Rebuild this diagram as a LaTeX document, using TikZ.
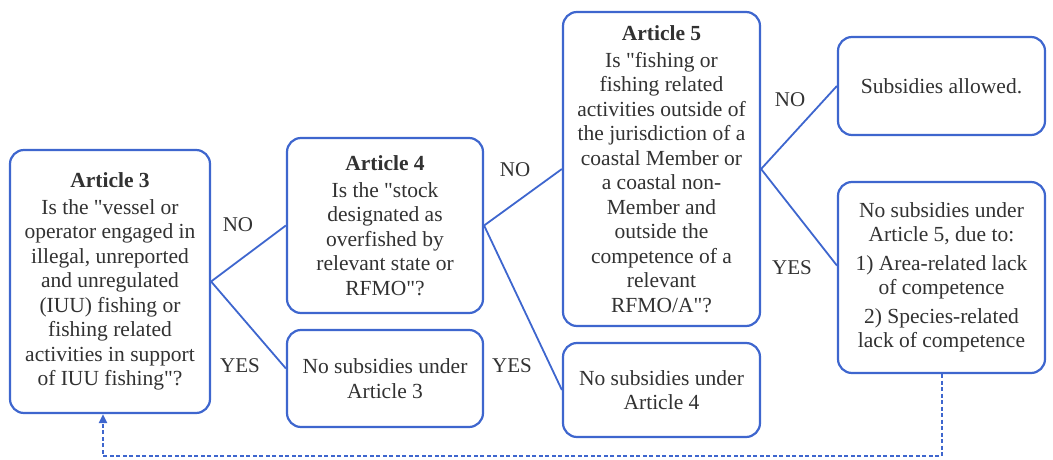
\documentclass[tikz,border=0pt]{standalone}
\usepackage{fontspec}
\setmainfont{Liberation Serif}[Ligatures=TeXOff]
\usetikzlibrary{arrows.meta,calc}
\definecolor{bblue}{RGB}{62,102,206}
\definecolor{tgray}{RGB}{50,50,50}
\begin{document}
\begin{tikzpicture}[x=1pt,y=-1pt,
  box/.style={draw=bblue,line width=2.2pt,rounded corners=14pt,fill=white,
    align=center,text=tgray,inner sep=2pt,
    font=\fontsize{21.5}{24.5}\selectfont},
  conn/.style={draw=bblue,line width=1.8pt},
  lbl/.style={text=tgray,font=\fontsize{21}{24}\selectfont,inner sep=0pt}]
\useasboundingbox (0,0) rectangle (1053,460);
\node[box,minimum width=200pt,minimum height=263pt] (a3) at (110,281.5)
 {\textbf{Article 3}\\[2pt]Is the "vessel or\\operator engaged in\\illegal, unreported\\and unregulated\\(IUU) fishing or\\fishing related\\activities in support\\of IUU fishing"?};
\node[box,minimum width=196pt,minimum height=175pt] (a4) at (385,225.5)
 {\textbf{Article 4}\\[2pt]Is the "stock\\designated as\\overfished by\\relevant state or\\RFMO"?};
\node[box,minimum width=196pt,minimum height=97pt] (n3) at (385,378.5)
 {No subsidies under\\Article 3};
\node[box,minimum width=197pt,minimum height=314pt] (a5) at (661.5,169)
 {\textbf{Article 5}\\[2pt]Is "fishing or\\fishing related\\activities outside of\\the jurisdiction of a\\coastal Member or\\a coastal non-\\Member and\\outside the\\competence of a\\relevant\\RFMO/A"?};
\node[box,minimum width=197pt,minimum height=94pt] (n4) at (661.5,390)
 {No subsidies under\\Article 4};
\node[box,minimum width=207pt,minimum height=98pt] (al) at (941.5,86)
 {Subsidies allowed.};
\node[box,minimum width=207pt,minimum height=191pt] (n5) at (941.5,277.5)
 {No subsidies under\\Article 5, due to:\\[4pt]1) Area-related lack\\of competence\\[4pt]2) Species-related\\lack of competence};
\draw[conn] (a3.east) -- (a4.west);
\draw[conn] (a3.east) -- ($(n3.west)+(0,-10)$);
\draw[conn] (a4.east) -- (a5.west);
\draw[conn] (a4.east) -- (n4.west);
\draw[conn] (a5.east) -- (al.west);
\draw[conn] (a5.east) -- ($(n5.west)+(0,-12)$);
\node[lbl] (l1) at (238,225) {NO};
\node[lbl] (l2) at (240,366) {YES};
\node[lbl] (l3) at (515,170) {NO};
\node[lbl] (l4) at (512,366) {YES};
\node[lbl] (l5) at (790,100) {NO};
\node[lbl] (l6) at (792,268) {YES};
\coordinate (c1) at ($(n5.south)+(0,82)$);
\draw[draw=bblue,line width=2pt,dash pattern=on 4pt off 2.5pt,-{Triangle[length=9pt,width=8pt]}]
  (n5.south) -- (c1) -| ($(a3.south)+(-7,0)$);
\end{tikzpicture}
\end{document}
